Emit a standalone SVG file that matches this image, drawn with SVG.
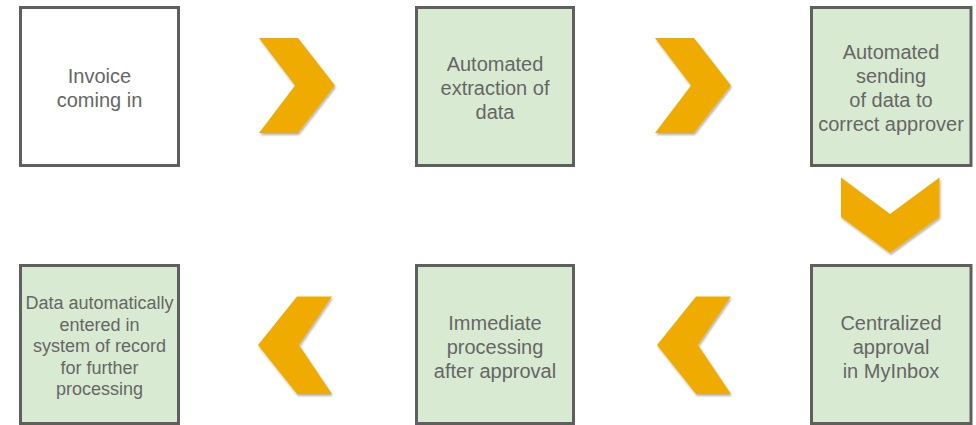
<svg xmlns="http://www.w3.org/2000/svg" width="976" height="425" viewBox="0 0 976 425">
  <defs>
    <filter id="shadow" x="-20%" y="-20%" width="150%" height="150%">
      <feDropShadow dx="1" dy="2" stdDeviation="1.2" flood-color="#000" flood-opacity="0.3"/>
    </filter>
    <style>
      .box { stroke: #5f5f5f; stroke-width: 3; }
      .green { fill: #d9ead3; }
      .white { fill: #ffffff; }
      .lbl { font-family: "Liberation Sans", Arial, Helvetica, sans-serif; font-size: 20px; fill: #666666; text-anchor: middle; }
      .small { font-size: 18px; }
      .chev { fill: #f0ab00; filter: url(#shadow); }
    </style>
  </defs>
  <rect width="976" height="425" fill="#ffffff"/>

  <g id="connectors">
    <polygon class="chev" points="259,38 298,38 335,85.5 298,133 259,133 295,85.5"/>
    <polygon class="chev" points="655,38 694,38 731,85.5 694,133 655,133 691,85.5"/>
    <polygon class="chev" points="841,177.5 890,214 939.5,177.5 939.5,217 890,253 841,217"/>
    <polygon class="chev" points="731,296.5 696,296.5 657,345 696,394 731,394 698,345"/>
    <polygon class="chev" points="332,296.5 297,296.5 258,345 297,394 332,394 299,345"/>
  </g>

  <g id="node-invoice">
    <rect class="box white" x="20.5" y="7.5" width="158" height="158"/>
    <text class="lbl" x="99.5" y="82.5">Invoice</text>
    <text class="lbl" x="99.5" y="106.5">coming in</text>
  </g>

  <g id="node-extraction">
    <rect class="box green" x="416.5" y="7.5" width="157" height="158"/>
    <text class="lbl" x="495" y="70.5">Automated</text>
    <text class="lbl" x="495" y="94.5">extraction of</text>
    <text class="lbl" x="495" y="118.5">data</text>
  </g>

  <g id="node-sending">
    <rect class="box green" x="811.5" y="7.5" width="159.5" height="158"/>
    <text class="lbl" x="891" y="58.5">Automated</text>
    <text class="lbl" x="891" y="82.5">sending</text>
    <text class="lbl" x="891" y="106.5">of data to</text>
    <text class="lbl" x="891" y="130.5">correct approver</text>
  </g>

  <g id="node-approval">
    <rect class="box green" x="811.5" y="265.5" width="159.5" height="158"/>
    <text class="lbl" x="891" y="329.5">Centralized</text>
    <text class="lbl" x="891" y="353.5">approval</text>
    <text class="lbl" x="891" y="377.5">in MyInbox</text>
  </g>

  <g id="node-processing">
    <rect class="box green" x="416.5" y="265.5" width="157" height="158"/>
    <text class="lbl" x="495" y="329.5">Immediate</text>
    <text class="lbl" x="495" y="353.5">processing</text>
    <text class="lbl" x="495" y="377.5">after approval</text>
  </g>

  <g id="node-record">
    <rect class="box green" x="20.5" y="265.5" width="158" height="158"/>
    <text class="lbl small" x="99.5" y="309.3">Data automatically</text>
    <text class="lbl small" x="99.5" y="330.8">entered in</text>
    <text class="lbl small" x="99.5" y="352.3">system of record</text>
    <text class="lbl small" x="99.5" y="373.8">for further</text>
    <text class="lbl small" x="99.5" y="395.3">processing</text>
  </g>
</svg>
